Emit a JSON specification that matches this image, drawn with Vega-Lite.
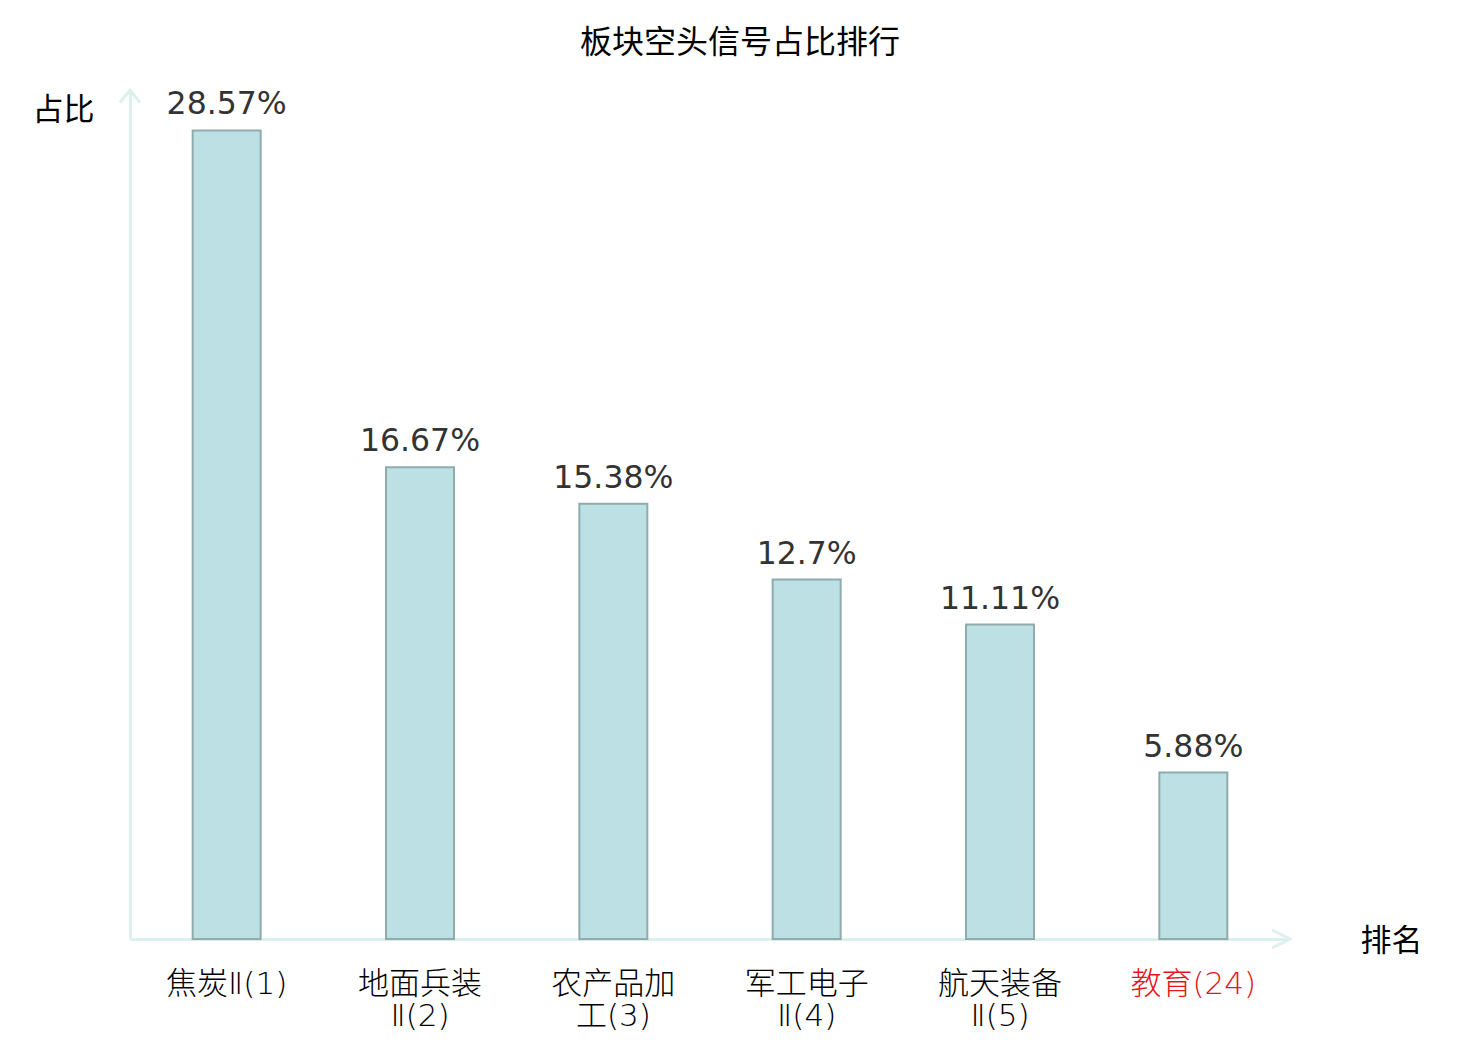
{
  "$schema": "https://vega.github.io/schema/vega-lite/v6.json",
  "autosize": {"type": "none"},
  "padding": {"left": 130, "top": 90, "right": 190, "bottom": 101},
  "width": 1160,
  "height": 849,
  "background": "white",
  "config": {
    "view": {"stroke": null},
    "font": "Noto Sans CJK SC"
  },
  "title": {
    "text": "板块空头信号占比排行",
    "font": "Noto Sans CJK SC",
    "fontSize": 32,
    "fontWeight": "normal",
    "color": "#000000",
    "anchor": "middle",
    "frame": "group",
    "dx": 30,
    "offset": 24
  },
  "data": {
    "values": [
      {"sector": "焦炭Ⅱ(1)", "share": 28.57},
      {"sector": "地面兵装\nⅡ(2)", "share": 16.67},
      {"sector": "农产品加\n工(3)", "share": 15.38},
      {"sector": "军工电子\nⅡ(4)", "share": 12.7},
      {"sector": "航天装备\nⅡ(5)", "share": 11.11},
      {"sector": "教育(24)", "share": 5.88}
    ]
  },
  "layer": [
    {
      "transform": [
        {"calculate": "format(datum.share, '.2~f') + '%'", "as": "label"}
      ],
      "encoding": {
        "x": {
          "field": "sector",
          "type": "nominal",
          "sort": null,
          "scale": {"paddingInner": 0, "paddingOuter": 0},
          "axis": {
            "title": "排名",
            "titleFont": "Noto Sans CJK SC",
            "titleFontSize": 31,
            "titleFontWeight": "normal",
            "titleColor": "#000000",
            "titleX": 1261,
            "titleY": 2,
            "titleAlign": "center",
            "titleBaseline": "middle",
            "domainColor": "#dcf0ed",
            "domainWidth": 3,
            "ticks": false,
            "labelAngle": 0,
            "labelFont": "DejaVu Sans, Noto Sans CJK SC",
            "labelFontWeight": 200,
            "labelFontSize": 31,
            "labelLineHeight": 32,
            "labelBaseline": "top",
            "labelPadding": 30,
            "labelExpr": "split(datum.label, '\\n')",
            "labelColor": {
              "condition": {"test": "indexof(datum.value, '教育') >= 0", "value": "#e8141b"},
              "value": "#000000"
            }
          }
        },
        "y": {
          "field": "share",
          "type": "quantitative",
          "scale": {"domain": [0, 30]},
          "axis": {
            "title": "占比",
            "titleFont": "Noto Sans CJK SC",
            "titleFontSize": 31,
            "titleFontWeight": "normal",
            "titleColor": "#000000",
            "titleAngle": 0,
            "titleX": -67,
            "titleY": 20,
            "titleAlign": "center",
            "titleBaseline": "middle",
            "domainColor": "#dcf0ed",
            "domainWidth": 3,
            "ticks": false,
            "labels": false,
            "grid": false
          }
        }
      },
      "layer": [
        {
          "mark": {
            "type": "bar",
            "size": 68,
            "fill": "#bce0e3",
            "stroke": "#8fabab",
            "strokeWidth": 2
          }
        },
        {
          "mark": {
            "type": "text",
            "font": "DejaVu Sans",
            "fontSize": 31.5,
            "color": "#333333",
            "baseline": "alphabetic",
            "align": "center",
            "dy": -16
          },
          "encoding": {"text": {"field": "label"}}
        }
      ]
    },
    {
      "data": {"values": [{"axis": "y", "top": 30}]},
      "mark": {
        "type": "point",
        "shape": "M-0.8,1L0,0L0.8,1",
        "filled": false,
        "size": 625,
        "color": "#dcf0ed",
        "strokeWidth": 3,
        "opacity": 1
      },
      "encoding": {
        "x": {"value": 0},
        "y": {"field": "top", "type": "quantitative"}
      }
    },
    {
      "data": {"values": [{"axis": "x", "bottom": 0}]},
      "mark": {
        "type": "point",
        "shape": "M-1,-0.5L0,0L-1,0.5",
        "filled": false,
        "size": 1296,
        "color": "#dcf0ed",
        "strokeWidth": 3,
        "opacity": 1
      },
      "encoding": {
        "x": {"value": {"expr": "width"}},
        "y": {"field": "bottom", "type": "quantitative"}
      }
    }
  ]
}
